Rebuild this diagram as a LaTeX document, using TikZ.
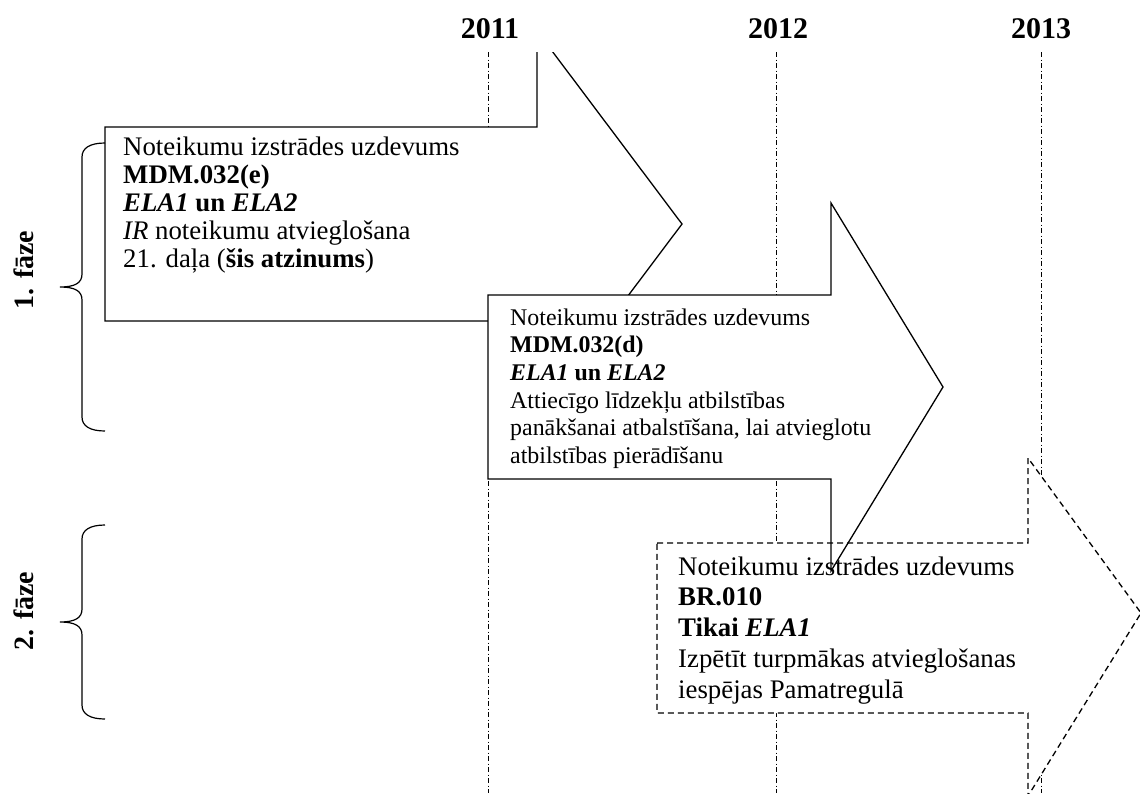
\documentclass[tikz,border=0pt]{standalone}
\usepackage{fontspec}
\setmainfont{Liberation Serif}
\begin{document}
\begin{tikzpicture}[x=1pt,y=-1pt,
  arrowline/.style={draw=black, line width=1.3pt, line join=miter},
  arrowfill/.style={fill=white},
  dasharrow/.style={draw=black, line width=1.3pt, dash pattern=on 6pt off 4pt},
  yearline/.style={draw=black, line width=0.9pt, dash pattern=on 5pt off 2.5pt on 1pt off 2.5pt},
  year/.style={font=\bfseries\fontsize{30}{36}\selectfont, anchor=base, inner sep=0pt},
  phase/.style={font=\bfseries\fontsize{28}{34}\selectfont, rotate=90, inner sep=0pt},
  boxtext/.style={anchor=base west, inner sep=0pt},
  brace/.style={draw=black, line width=1.2pt}]
\useasboundingbox (0,0) rectangle (1140,793);

\begin{scope}
\clip (0,52) rectangle (1140,793);
% year lines
\draw[yearline] (488,52) -- (488,793);
\draw[yearline] (776,52) -- (776,793);
\draw[yearline] (1041,52) -- (1041,793);
% arrow 1
\path[arrowline, arrowfill] (105,127) -- (537,127) -- (537,31) -- (682,224) -- (537,417) -- (537,321) -- (105,321) -- cycle;
% arrow 2 fill
\path[arrowfill] (488,295) -- (831,295) -- (831,203) -- (943,387) -- (831,571) -- (831,479) -- (488,479) -- cycle;
% arrow 3
\path[dasharrow, arrowfill] (657,543) -- (1028,543) -- (1028,458) -- (1141,613) -- (1028,796) -- (1028,713) -- (657,713) -- cycle;
% arrow 2 outline
\path[arrowline] (488,295) -- (831,295) -- (831,203) -- (943,387) -- (831,571) -- (831,479) -- (488,479) -- cycle;
\end{scope}

% years
\node[year] (y2011) at (490,38) {2011};
\node[year] (y2012) at (778,38) {2012};
\node[year] (y2013) at (1041,38) {2013};

% phases
\node[phase] (p1) at (24,270) {1. fāze};
\node[phase] (p2) at (24,611) {2. fāze};

% braces
\path[brace] (105,143) .. controls (90,143) and (82,148) .. (82,157) -- (82,274)
  .. controls (82,283) and (75,287) .. (60,287)
  .. controls (75,287) and (82,291) .. (82,300) -- (82,417)
  .. controls (82,426) and (90,431) .. (105,431);
\path[brace] (105,525) .. controls (90,525) and (82,530) .. (82,539) -- (82,609)
  .. controls (82,618) and (75,622) .. (60,622)
  .. controls (75,622) and (82,626) .. (82,635) -- (82,705)
  .. controls (82,714) and (90,719) .. (105,719);

% box texts
\node[boxtext] (t1) at (123,155) {\parbox[t]{420pt}{\fontsize{26.8}{28}\selectfont
Noteikumu izstrādes uzdevums\\
\textbf{MDM.032(e)}\\
\textbf{\textit{ELA1} un \textit{ELA2}}\\
\textit{IR} noteikumu atvieglošana\\
21. daļa (\textbf{šis atzinums})}};

\node[boxtext] (t2) at (510,325) {\parbox[t]{420pt}{\fontsize{23.9}{27.7}\selectfont
Noteikumu izstrādes uzdevums\\
\textbf{MDM.032(d)}\\
\textbf{\textit{ELA1} un \textit{ELA2}}\\
Attiecīgo līdzekļu atbilstības\\
panākšanai atbalstīšana, lai atvieglotu\\
atbilstības pierādīšanu}};

\node[boxtext] (t3) at (678,575) {\parbox[t]{420pt}{\fontsize{26.8}{30.8}\selectfont
Noteikumu izstrādes uzdevums\\
\textbf{BR.010}\\
\textbf{Tikai \textit{ELA1}}\\
Izpētīt turpmākas atvieglošanas\\
iespējas Pamatregulā}};
\end{tikzpicture}
\end{document}
